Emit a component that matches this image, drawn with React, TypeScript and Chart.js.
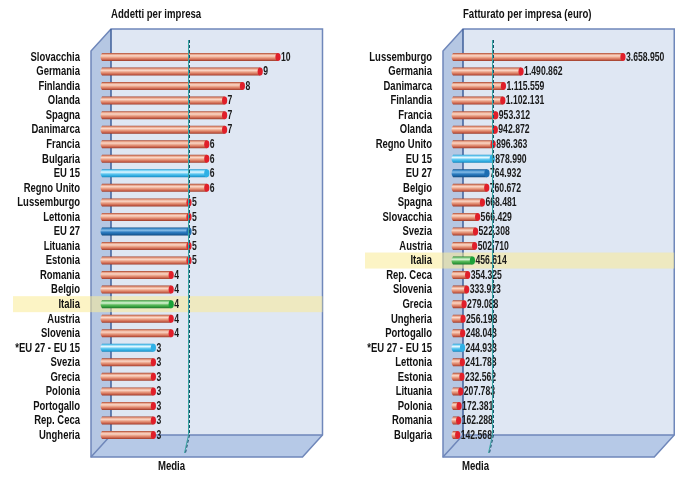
import React, { useEffect, useRef } from "react";
import { Chart, registerables } from "chart.js";

Chart.register(...registerables);

// ---------- DATA ----------
const leftTitle = "Addetti per impresa";
const leftCategories = [
  "Slovacchia", "Germania", "Finlandia", "Olanda", "Spagna", "Danimarca", "Francia",
  "Bulgaria", "EU 15", "Regno Unito", "Lussemburgo", "Lettonia", "EU 27", "Lituania",
  "Estonia", "Romania", "Belgio", "Italia", "Austria", "Slovenia", "*EU 27 - EU 15",
  "Svezia", "Grecia", "Polonia", "Portogallo", "Rep. Ceca", "Ungheria",
];
const leftValues = [10, 9, 8, 7, 7, 7, 6, 6, 6, 6, 5, 5, 5, 5, 5, 4, 4, 4, 4, 4, 3, 3, 3, 3, 3, 3, 3];
const leftMedia = 4.95;

const rightTitle = "Fatturato per impresa (euro)";
const rightCategories = [
  "Lussemburgo", "Germania", "Danimarca", "Finlandia", "Francia", "Olanda", "Regno Unito",
  "EU 15", "EU 27", "Belgio", "Spagna", "Slovacchia", "Svezia", "Austria", "Italia",
  "Rep. Ceca", "Slovenia", "Grecia", "Ungheria", "Portogallo", "*EU 27 - EU 15",
  "Lettonia", "Estonia", "Lituania", "Polonia", "Romania", "Bulgaria",
];
const rightValues = [
  3658950, 1490862, 1115559, 1102131, 953312, 942872, 896363, 878990, 764932, 760672,
  668481, 566429, 522308, 502710, 456614, 354325, 333923, 279088, 256198, 248043,
  244933, 241783, 232562, 207783, 172381, 162288, 142568,
];
const rightMedia = 880000;

const mediaLabel = "Media";
const highlightCategory = "Italia";

// ---------- STYLE ----------
const FONT = "'Liberation Sans', Arial, sans-serif";

function formatIt(v: number): string {
  return String(v).replace(/\B(?=(\d{3})+(?!\d))/g, ".");
}

function drawText(ctx: any, text: string, x: number, y: number, align: string, sx: number, weight = "bold", size = 12) {
  ctx.save();
  ctx.font = `${weight} ${size}px ${FONT}`;
  ctx.textBaseline = "middle";
  ctx.textAlign = "left";
  const w = ctx.measureText(text).width * sx;
  let x0 = x;
  if (align === "right") x0 = x - w;
  else if (align === "center") x0 = x - w / 2;
  ctx.translate(x0, y);
  ctx.scale(sx, 1);
  ctx.fillText(text, 0, 0);
  ctx.restore();
}

type Palette = { stops: [number, string][]; cap: string };
const RED: Palette = {
  stops: [[0, "#a3402c"], [0.15, "#e59b80"], [0.35, "#fbd8c8"], [0.6, "#e89a7e"], [0.85, "#c8604a"], [1, "#983a28"]],
  cap: "#e01f2a",
};
const CYAN: Palette = {
  stops: [[0, "#1a93cc"], [0.15, "#7dd5f7"], [0.35, "#e6f8ff"], [0.6, "#5ac6f0"], [0.85, "#2aa6dc"], [1, "#1783b8"]],
  cap: "#2fb0e6",
};
const BLUE: Palette = {
  stops: [[0, "#0f4c85"], [0.15, "#3f8bc9"], [0.35, "#86bde8"], [0.6, "#2e7dc1"], [0.85, "#1a62a2"], [1, "#0e4477"]],
  cap: "#1d6db2",
};
const GREEN: Palette = {
  stops: [[0, "#217e2c"], [0.15, "#7fcc80"], [0.35, "#dcf4d8"], [0.6, "#5cbb5c"], [0.85, "#2f9a3a"], [1, "#1d7027"]],
  cap: "#1aa238",
};
function paletteFor(cat: string): Palette {
  if (cat === "EU 15" || cat === "*EU 27 - EU 15") return CYAN;
  if (cat === "EU 27") return BLUE;
  if (cat === "Italia") return GREEN;
  return RED;
}

type PanelCfg = {
  title: string;
  cats: string[];
  values: number[];
  media: number;
  max: number;
  axisWidth: number;
  tickPadding: number;
  padRight: number;
  format: (v: number) => string;
  backLeftOff: number;
  bandLeft: number;
};

function makePlugin(cfg: PanelCfg) {
  const top = 29;
  const backBottom = 435;
  const frontBottom = 457;
  const depthX = 20;
  const depthY = 22;
  return {
    id: "box3d",
    beforeDraw(chart: any) {
      const { ctx, chartArea } = chart;
      const yScale = chart.scales.y;
      const backLeft = chartArea.left + cfg.backLeftOff;
      const backRight = chartArea.right;
      const frontLeft = backLeft - depthX;
      const frontRight = backRight - depthX;
      ctx.save();
      ctx.fillStyle = "#ffffff";
      ctx.fillRect(0, 0, chart.width, chart.height);
      // back wall
      ctx.fillStyle = "#dfe7f3";
      ctx.fillRect(backLeft, top, backRight - backLeft, backBottom - top);
      // left wall
      ctx.fillStyle = "#b5c7e3";
      ctx.beginPath();
      ctx.moveTo(frontLeft, top + depthY);
      ctx.lineTo(backLeft, top);
      ctx.lineTo(backLeft, backBottom);
      ctx.lineTo(frontLeft, frontBottom);
      ctx.closePath();
      ctx.fill();
      // floor
      ctx.fillStyle = "#b6c9e7";
      ctx.beginPath();
      ctx.moveTo(frontLeft, frontBottom);
      ctx.lineTo(backLeft, backBottom);
      ctx.lineTo(backRight, backBottom);
      ctx.lineTo(frontRight, frontBottom);
      ctx.closePath();
      ctx.fill();
      // outlines
      ctx.strokeStyle = "#6f87ba";
      ctx.lineWidth = 1.5;
      ctx.beginPath();
      ctx.moveTo(frontLeft, frontBottom);
      ctx.lineTo(frontLeft, top + depthY);
      ctx.lineTo(backLeft, top);
      ctx.lineTo(backRight, top);
      ctx.lineTo(backRight, backBottom);
      ctx.lineTo(frontRight, frontBottom);
      ctx.closePath();
      ctx.stroke();
      ctx.beginPath();
      ctx.moveTo(backLeft, backBottom);
      ctx.lineTo(backRight, backBottom);
      ctx.moveTo(backLeft, backBottom);
      ctx.lineTo(frontLeft, frontBottom);
      ctx.stroke();
      ctx.strokeStyle = "#3f5f9a";
      ctx.lineWidth = 1.5;
      ctx.beginPath();
      ctx.moveTo(backLeft, top);
      ctx.lineTo(backLeft, backBottom);
      ctx.stroke();
      // highlight band
      const idx = cfg.cats.indexOf(highlightCategory);
      if (idx >= 0) {
        const yc = yScale.getPixelForValue(idx);
        ctx.fillStyle = "rgba(250,235,150,0.55)";
        ctx.fillRect(cfg.bandLeft, yc - 8, backRight - cfg.bandLeft, 16);
      }
      // title
      ctx.fillStyle = "#111111";
      drawText(ctx, cfg.title, backLeft, 15, "left", 0.8);
      // category labels (from the library's y scale)
      const labelRight = chartArea.left - cfg.tickPadding;
      cfg.cats.forEach((_, i) => {
        const y = yScale.getPixelForValue(i);
        drawText(ctx, String(yScale.getLabelForValue(i)), labelRight, y + 0.5, "right", 0.79);
      });
      ctx.restore();
    },
    afterDatasetsDraw(chart: any) {
      const { ctx } = chart;
      const xScale = chart.scales.x;
      const meta = chart.getDatasetMeta(0);
      ctx.save();
      meta.data.forEach((el: any, i: number) => {
        const pal = paletteFor(cfg.cats[i]);
        const h = 8;
        const x0 = el.base;
        const x1 = el.x;
        const yc = el.y;
        const g = ctx.createLinearGradient(0, yc - h / 2, 0, yc + h / 2);
        pal.stops.forEach(([o, c]) => g.addColorStop(o, c));
        ctx.fillStyle = g;
        ctx.beginPath();
        ctx.moveTo(x0 + 2, yc - h / 2);
        ctx.lineTo(x1, yc - h / 2);
        ctx.lineTo(x1, yc + h / 2);
        ctx.lineTo(x0 + 2, yc + h / 2);
        ctx.quadraticCurveTo(x0 - 1, yc, x0 + 2, yc - h / 2);
        ctx.closePath();
        ctx.fill();
        // end cap
        ctx.fillStyle = pal.cap;
        ctx.beginPath();
        ctx.ellipse(x1, yc, 2.6, h / 2, 0, 0, Math.PI * 2);
        ctx.fill();
        // value label
        ctx.fillStyle = "#1a1a1a";
        drawText(ctx, cfg.format(cfg.values[i]), x1 + 3, yc + 0.5, "left", 0.72);
      });
      // media line
      const mx = Math.round(xScale.getPixelForValue(cfg.media)) + 0.5;
      const yTop = 40;
      ctx.lineWidth = 1;
      ctx.strokeStyle = "#3aa7a3";
      ctx.beginPath();
      ctx.moveTo(mx, yTop);
      ctx.lineTo(mx, backBottom);
      ctx.lineTo(mx - 4, frontBottom - 4);
      ctx.stroke();
      ctx.strokeStyle = "#16506a";
      ctx.setLineDash([3, 2]);
      ctx.beginPath();
      ctx.moveTo(mx + 1, yTop);
      ctx.lineTo(mx + 1, backBottom);
      ctx.lineTo(mx - 3, frontBottom - 4);
      ctx.stroke();
      ctx.setLineDash([]);
      // media label
      ctx.fillStyle = "#111111";
      drawText(ctx, mediaLabel, mx - 17, 467, "center", 0.8);
      ctx.restore();
    },
  };
}

function Panel({ cfg, left }: { cfg: PanelCfg; left: number }) {
  const ref = useRef<HTMLCanvasElement | null>(null);
  useEffect(() => {
    if (!ref.current) return;
    const chart = new Chart(ref.current, {
      type: "bar",
      data: {
        labels: cfg.cats,
        datasets: [
          {
            data: cfg.values,
            backgroundColor: "rgba(0,0,0,0)",
            borderWidth: 0,
            barThickness: 8,
          },
        ],
      },
      options: {
        indexAxis: "y",
        responsive: false,
        animation: false,
        devicePixelRatio: 1,
        layout: { padding: { top: 49.7, bottom: 38.7, left: 0, right: cfg.padRight } },
        plugins: { legend: { display: false }, tooltip: { enabled: false }, title: { display: false } },
        scales: {
          x: { display: false, min: 0, max: cfg.max },
          y: {
            grid: { display: false },
            border: { display: false },
            ticks: { display: false, autoSkip: false },
            afterFit(scale: any) {
              scale.width = cfg.axisWidth;
            },
          },
        },
      } as any,
      plugins: [makePlugin(cfg)],
    });
    return () => chart.destroy();
  }, [cfg]);
  return (
    <canvas
      ref={ref}
      width={346}
      height={481}
      style={{ position: "absolute", left, top: 0, width: 346, height: 481 }}
    />
  );
}

const leftCfg: PanelCfg = {
  title: leftTitle,
  cats: leftCategories,
  values: leftValues,
  media: leftMedia,
  max: 12.5,
  axisWidth: 100,
  tickPadding: 20,
  padRight: 23.5,
  format: (v) => String(v),
  backLeftOff: 11,
  bandLeft: 13,
};

const rightCfg: PanelCfg = {
  title: rightTitle,
  cats: rightCategories,
  values: rightValues,
  media: rightMedia,
  max: 4750000,
  axisWidth: 105,
  tickPadding: 19,
  padRight: 17.75,
  format: formatIt,
  backLeftOff: 12,
  bandLeft: 19,
};

export default function App() {
  return (
    <div style={{ position: "fixed", left: 0, top: 0, width: 692, height: 481, background: "#ffffff" }}>
      <Panel cfg={leftCfg} left={0} />
      <Panel cfg={rightCfg} left={346} />
    </div>
  );
}
